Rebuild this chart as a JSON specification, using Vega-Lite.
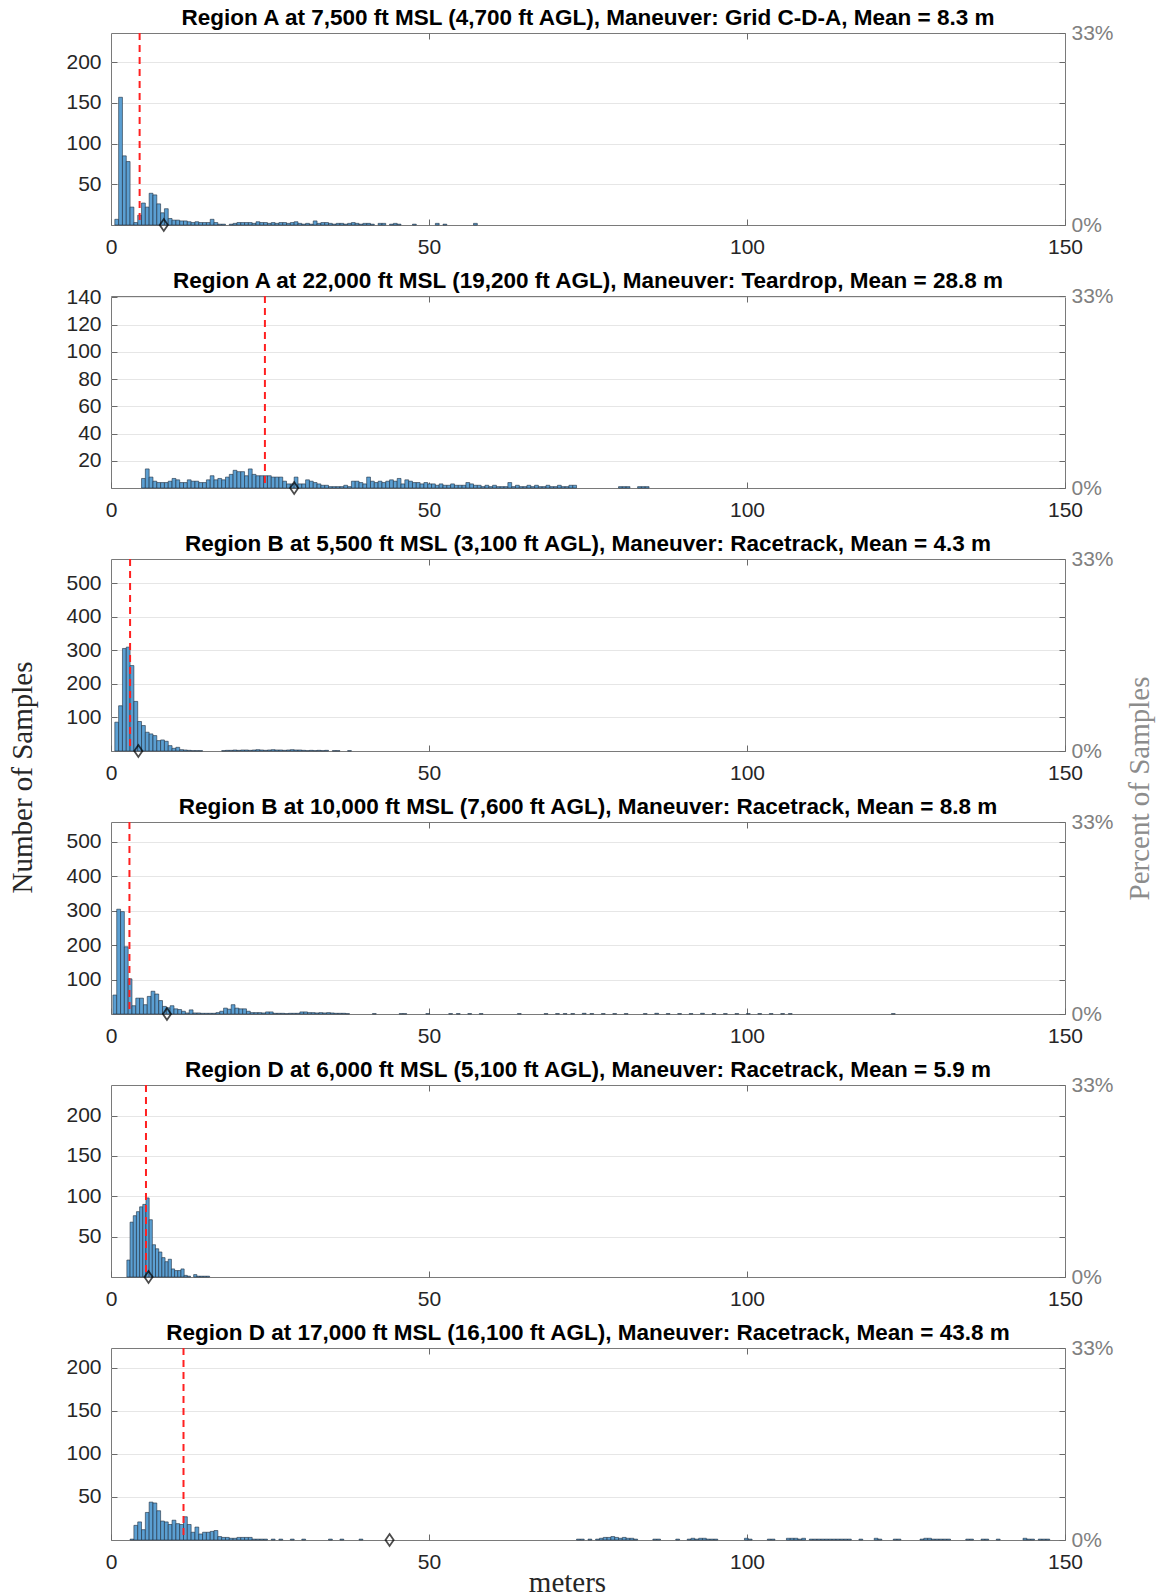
{
"$schema": "https://vega.github.io/schema/vega-lite/v6.json",
"padding": {"left": 7, "top": 6, "right": 5, "bottom": 0},
"background": "white",
"bounds": "flush",
"spacing": 71,
"config": {
  "view": {"stroke": "#7a7a7a", "strokeWidth": 1},
  "title": {"font": "Liberation Sans", "fontWeight": "bold", "fontSize": 22.5, "color": "#000000", "anchor": "middle", "offset": -7},
  "axis": {"labelFont": "Liberation Sans", "labelFontSize": 21, "labelColor": "#262626", "domain": false, "labelOverlap": false, "labelFlush": false, "gridColor": "#e6e6e6", "tickColor": "#6a6a6a"}
},
"datasets": {
"stats": [
 {"p":1,"median":4.5,"mean":8.3},
 {"p":2,"median":24.2,"mean":28.8},
 {"p":3,"median":3.0,"mean":4.3},
 {"p":4,"median":2.9,"mean":8.8},
 {"p":5,"median":5.5,"mean":5.9},
 {"p":6,"median":11.4,"mean":43.8}
],
"bars": [
 {"p":1,"c":0.9,"n":7},{"p":1,"c":1.5,"n":157},{"p":1,"c":2.1,"n":85},{"p":1,"c":2.7,"n":78},{"p":1,"c":3.3,"n":22},{"p":1,"c":3.9,"n":3},{"p":1,"c":4.5,"n":12},{"p":1,"c":5.1,"n":27},{"p":1,"c":5.7,"n":22},{"p":1,"c":6.3,"n":39},{"p":1,"c":6.9,"n":37},{"p":1,"c":7.5,"n":26},{"p":1,"c":8.1,"n":15},{"p":1,"c":8.7,"n":20},{"p":1,"c":9.3,"n":8},{"p":1,"c":9.9,"n":6},{"p":1,"c":10.5,"n":6},{"p":1,"c":11.1,"n":5},{"p":1,"c":11.7,"n":5},{"p":1,"c":12.3,"n":4},{"p":1,"c":12.9,"n":3},{"p":1,"c":13.5,"n":4},{"p":1,"c":14.1,"n":3},{"p":1,"c":14.7,"n":3},{"p":1,"c":15.3,"n":3},{"p":1,"c":15.9,"n":7},{"p":1,"c":16.5,"n":3},{"p":1,"c":17.1,"n":1},{"p":1,"c":17.7,"n":1},{"p":1,"c":18.9,"n":1},{"p":1,"c":19.5,"n":2},{"p":1,"c":20.1,"n":3},{"p":1,"c":20.7,"n":3},{"p":1,"c":21.3,"n":3},{"p":1,"c":21.9,"n":3},{"p":1,"c":22.5,"n":2},{"p":1,"c":23.1,"n":4},{"p":1,"c":23.7,"n":3},{"p":1,"c":24.3,"n":3},{"p":1,"c":24.9,"n":2},{"p":1,"c":25.5,"n":3},{"p":1,"c":26.1,"n":2},{"p":1,"c":26.7,"n":3},{"p":1,"c":27.3,"n":3},{"p":1,"c":27.9,"n":2},{"p":1,"c":28.5,"n":3},{"p":1,"c":29.1,"n":4},{"p":1,"c":29.7,"n":2},{"p":1,"c":30.3,"n":1},{"p":1,"c":30.9,"n":2},{"p":1,"c":31.5,"n":1},{"p":1,"c":32.1,"n":5},{"p":1,"c":32.7,"n":2},{"p":1,"c":33.3,"n":3},{"p":1,"c":33.9,"n":3},{"p":1,"c":34.5,"n":2},{"p":1,"c":35.1,"n":1},{"p":1,"c":35.7,"n":2},{"p":1,"c":36.3,"n":2},{"p":1,"c":36.9,"n":1},{"p":1,"c":37.5,"n":2},{"p":1,"c":38.1,"n":3},{"p":1,"c":38.7,"n":2},{"p":1,"c":39.3,"n":1},{"p":1,"c":39.9,"n":2},{"p":1,"c":40.5,"n":2},{"p":1,"c":41.1,"n":1},{"p":1,"c":42.3,"n":2},{"p":1,"c":42.9,"n":2},{"p":1,"c":44.1,"n":1},{"p":1,"c":44.7,"n":2},{"p":1,"c":45.3,"n":1},{"p":1,"c":47.7,"n":1},{"p":1,"c":51.3,"n":2},{"p":1,"c":52.5,"n":1},{"p":1,"c":57.3,"n":2},

 {"p":2,"c":5.1,"n":7},{"p":2,"c":5.7,"n":14},{"p":2,"c":6.3,"n":8},{"p":2,"c":6.9,"n":5},{"p":2,"c":7.5,"n":4},{"p":2,"c":8.1,"n":4},{"p":2,"c":8.7,"n":4},{"p":2,"c":9.3,"n":5},{"p":2,"c":9.9,"n":7},{"p":2,"c":10.5,"n":6},{"p":2,"c":11.1,"n":4},{"p":2,"c":11.7,"n":4},{"p":2,"c":12.3,"n":6},{"p":2,"c":12.9,"n":5},{"p":2,"c":13.5,"n":5},{"p":2,"c":14.1,"n":4},{"p":2,"c":14.7,"n":4},{"p":2,"c":15.3,"n":6},{"p":2,"c":15.9,"n":9},{"p":2,"c":16.5,"n":6},{"p":2,"c":17.1,"n":7},{"p":2,"c":17.7,"n":6},{"p":2,"c":18.3,"n":8},{"p":2,"c":18.9,"n":10},{"p":2,"c":19.5,"n":13},{"p":2,"c":20.1,"n":12},{"p":2,"c":20.7,"n":12},{"p":2,"c":21.3,"n":9},{"p":2,"c":21.9,"n":14},{"p":2,"c":22.5,"n":10},{"p":2,"c":23.1,"n":9},{"p":2,"c":23.7,"n":9},{"p":2,"c":24.3,"n":9},{"p":2,"c":24.9,"n":9},{"p":2,"c":25.5,"n":8},{"p":2,"c":26.1,"n":8},{"p":2,"c":26.7,"n":8},{"p":2,"c":27.3,"n":5},{"p":2,"c":27.9,"n":3},{"p":2,"c":28.5,"n":3},{"p":2,"c":29.1,"n":8},{"p":2,"c":29.7,"n":3},{"p":2,"c":30.3,"n":3},{"p":2,"c":30.9,"n":6},{"p":2,"c":31.5,"n":5},{"p":2,"c":32.1,"n":4},{"p":2,"c":32.7,"n":3},{"p":2,"c":33.3,"n":2},{"p":2,"c":33.9,"n":2},{"p":2,"c":34.5,"n":1},{"p":2,"c":35.1,"n":1},{"p":2,"c":35.7,"n":1},{"p":2,"c":36.3,"n":1},{"p":2,"c":36.9,"n":2},{"p":2,"c":37.5,"n":1},{"p":2,"c":38.1,"n":5},{"p":2,"c":38.7,"n":5},{"p":2,"c":39.3,"n":4},{"p":2,"c":39.9,"n":3},{"p":2,"c":40.5,"n":8},{"p":2,"c":41.1,"n":5},{"p":2,"c":41.7,"n":4},{"p":2,"c":42.3,"n":5},{"p":2,"c":42.9,"n":4},{"p":2,"c":43.5,"n":5},{"p":2,"c":44.1,"n":6},{"p":2,"c":44.7,"n":5},{"p":2,"c":45.3,"n":7},{"p":2,"c":45.9,"n":3},{"p":2,"c":46.5,"n":6},{"p":2,"c":47.1,"n":5},{"p":2,"c":47.7,"n":4},{"p":2,"c":48.3,"n":4},{"p":2,"c":48.9,"n":3},{"p":2,"c":49.5,"n":4},{"p":2,"c":50.1,"n":3},{"p":2,"c":50.7,"n":3},{"p":2,"c":51.3,"n":2},{"p":2,"c":51.9,"n":3},{"p":2,"c":52.5,"n":2},{"p":2,"c":53.1,"n":2},{"p":2,"c":53.7,"n":3},{"p":2,"c":54.3,"n":2},{"p":2,"c":54.9,"n":2},{"p":2,"c":55.5,"n":2},{"p":2,"c":56.1,"n":4},{"p":2,"c":56.7,"n":3},{"p":2,"c":57.3,"n":2},{"p":2,"c":57.9,"n":2},{"p":2,"c":58.5,"n":1},{"p":2,"c":59.1,"n":2},{"p":2,"c":59.7,"n":1},{"p":2,"c":60.3,"n":2},{"p":2,"c":60.9,"n":1},{"p":2,"c":61.5,"n":1},{"p":2,"c":62.1,"n":1},{"p":2,"c":62.7,"n":4},{"p":2,"c":63.3,"n":1},{"p":2,"c":63.9,"n":2},{"p":2,"c":64.5,"n":1},{"p":2,"c":65.1,"n":1},{"p":2,"c":65.7,"n":2},{"p":2,"c":66.3,"n":1},{"p":2,"c":66.9,"n":2},{"p":2,"c":67.5,"n":1},{"p":2,"c":68.1,"n":1},{"p":2,"c":68.7,"n":2},{"p":2,"c":69.3,"n":1},{"p":2,"c":69.9,"n":1},{"p":2,"c":70.5,"n":2},{"p":2,"c":71.1,"n":1},{"p":2,"c":71.7,"n":1},{"p":2,"c":72.3,"n":2},{"p":2,"c":72.9,"n":2},{"p":2,"c":80.1,"n":1},{"p":2,"c":80.7,"n":1},{"p":2,"c":81.3,"n":1},{"p":2,"c":83.1,"n":1},{"p":2,"c":83.7,"n":1},{"p":2,"c":84.3,"n":1},

 {"p":3,"c":0.9,"n":86},{"p":3,"c":1.5,"n":135},{"p":3,"c":2.1,"n":306},{"p":3,"c":2.7,"n":310},{"p":3,"c":3.3,"n":255},{"p":3,"c":3.9,"n":148},{"p":3,"c":4.5,"n":88},{"p":3,"c":5.1,"n":76},{"p":3,"c":5.7,"n":56},{"p":3,"c":6.3,"n":51},{"p":3,"c":6.9,"n":46},{"p":3,"c":7.5,"n":31},{"p":3,"c":8.1,"n":33},{"p":3,"c":8.7,"n":29},{"p":3,"c":9.3,"n":16},{"p":3,"c":9.9,"n":8},{"p":3,"c":10.5,"n":11},{"p":3,"c":11.1,"n":4},{"p":3,"c":11.7,"n":3},{"p":3,"c":12.3,"n":2},{"p":3,"c":12.9,"n":1},{"p":3,"c":13.5,"n":1},{"p":3,"c":14.1,"n":1},{"p":3,"c":17.7,"n":1},{"p":3,"c":18.3,"n":2},{"p":3,"c":18.9,"n":2},{"p":3,"c":19.5,"n":3},{"p":3,"c":20.1,"n":2},{"p":3,"c":20.7,"n":3},{"p":3,"c":21.3,"n":3},{"p":3,"c":21.9,"n":2},{"p":3,"c":22.5,"n":3},{"p":3,"c":23.1,"n":4},{"p":3,"c":23.7,"n":3},{"p":3,"c":24.3,"n":2},{"p":3,"c":24.9,"n":3},{"p":3,"c":25.5,"n":4},{"p":3,"c":26.1,"n":3},{"p":3,"c":26.7,"n":3},{"p":3,"c":27.3,"n":2},{"p":3,"c":27.9,"n":3},{"p":3,"c":28.5,"n":4},{"p":3,"c":29.1,"n":3},{"p":3,"c":29.7,"n":3},{"p":3,"c":30.3,"n":2},{"p":3,"c":30.9,"n":1},{"p":3,"c":31.5,"n":2},{"p":3,"c":32.1,"n":1},{"p":3,"c":32.7,"n":2},{"p":3,"c":33.3,"n":1},{"p":3,"c":33.9,"n":2},{"p":3,"c":35.1,"n":1},{"p":3,"c":35.7,"n":1},{"p":3,"c":37.5,"n":1},

 {"p":4,"c":0.6,"n":55},{"p":4,"c":1.2,"n":304},{"p":4,"c":1.8,"n":297},{"p":4,"c":2.4,"n":195},{"p":4,"c":3.0,"n":102},{"p":4,"c":3.6,"n":24},{"p":4,"c":4.2,"n":46},{"p":4,"c":4.8,"n":46},{"p":4,"c":5.4,"n":27},{"p":4,"c":6.0,"n":51},{"p":4,"c":6.6,"n":66},{"p":4,"c":7.2,"n":58},{"p":4,"c":7.8,"n":39},{"p":4,"c":8.4,"n":22},{"p":4,"c":9.0,"n":18},{"p":4,"c":9.6,"n":24},{"p":4,"c":10.2,"n":15},{"p":4,"c":10.8,"n":13},{"p":4,"c":11.4,"n":8},{"p":4,"c":12.0,"n":3},{"p":4,"c":12.6,"n":12},{"p":4,"c":13.2,"n":3},{"p":4,"c":13.8,"n":3},{"p":4,"c":14.4,"n":2},{"p":4,"c":15.0,"n":2},{"p":4,"c":15.6,"n":2},{"p":4,"c":16.2,"n":2},{"p":4,"c":16.8,"n":4},{"p":4,"c":17.4,"n":8},{"p":4,"c":18.0,"n":17},{"p":4,"c":18.6,"n":14},{"p":4,"c":19.2,"n":27},{"p":4,"c":19.8,"n":17},{"p":4,"c":20.4,"n":15},{"p":4,"c":21.0,"n":15},{"p":4,"c":21.6,"n":8},{"p":4,"c":22.2,"n":4},{"p":4,"c":22.8,"n":4},{"p":4,"c":23.4,"n":4},{"p":4,"c":24.0,"n":3},{"p":4,"c":24.6,"n":6},{"p":4,"c":25.2,"n":6},{"p":4,"c":25.8,"n":2},{"p":4,"c":26.4,"n":2},{"p":4,"c":27.0,"n":2},{"p":4,"c":27.6,"n":1},{"p":4,"c":28.2,"n":2},{"p":4,"c":28.8,"n":2},{"p":4,"c":29.4,"n":2},{"p":4,"c":30.0,"n":6},{"p":4,"c":30.6,"n":6},{"p":4,"c":31.2,"n":4},{"p":4,"c":31.8,"n":4},{"p":4,"c":32.4,"n":3},{"p":4,"c":33.0,"n":4},{"p":4,"c":33.6,"n":3},{"p":4,"c":34.2,"n":4},{"p":4,"c":34.8,"n":3},{"p":4,"c":35.4,"n":2},{"p":4,"c":36.0,"n":2},{"p":4,"c":36.6,"n":2},{"p":4,"c":37.2,"n":1},{"p":4,"c":41.4,"n":1},{"p":4,"c":45.6,"n":1},{"p":4,"c":46.2,"n":1},{"p":4,"c":49.8,"n":1},{"p":4,"c":53.4,"n":1},{"p":4,"c":54.6,"n":1},{"p":4,"c":56.4,"n":1},{"p":4,"c":58.2,"n":1},{"p":4,"c":64.2,"n":1},{"p":4,"c":68.4,"n":1},{"p":4,"c":70.2,"n":1},{"p":4,"c":71.4,"n":1},{"p":4,"c":72.6,"n":1},{"p":4,"c":74.4,"n":2},{"p":4,"c":75.6,"n":1},{"p":4,"c":77.4,"n":1},{"p":4,"c":79.2,"n":1},{"p":4,"c":81.0,"n":1},{"p":4,"c":84.0,"n":1},{"p":4,"c":85.8,"n":2},{"p":4,"c":87.6,"n":1},{"p":4,"c":89.4,"n":1},{"p":4,"c":91.2,"n":1},{"p":4,"c":93.0,"n":2},{"p":4,"c":94.8,"n":1},{"p":4,"c":96.6,"n":1},{"p":4,"c":98.4,"n":1},{"p":4,"c":100.2,"n":1},{"p":4,"c":102.0,"n":1},{"p":4,"c":103.8,"n":1},{"p":4,"c":105.6,"n":1},{"p":4,"c":106.8,"n":1},{"p":4,"c":123.0,"n":1},

 {"p":5,"c":2.75,"n":21},{"p":5,"c":3.25,"n":68},{"p":5,"c":3.75,"n":76},{"p":5,"c":4.25,"n":81},{"p":5,"c":4.75,"n":87},{"p":5,"c":5.25,"n":90},{"p":5,"c":5.75,"n":98},{"p":5,"c":6.25,"n":71},{"p":5,"c":6.75,"n":40},{"p":5,"c":7.25,"n":35},{"p":5,"c":7.75,"n":31},{"p":5,"c":8.25,"n":24},{"p":5,"c":8.75,"n":19},{"p":5,"c":9.25,"n":22},{"p":5,"c":9.75,"n":10},{"p":5,"c":10.25,"n":8},{"p":5,"c":10.75,"n":8},{"p":5,"c":11.25,"n":10},{"p":5,"c":11.75,"n":2},{"p":5,"c":12.25,"n":1},{"p":5,"c":13.25,"n":3},{"p":5,"c":13.75,"n":1},{"p":5,"c":14.25,"n":1},{"p":5,"c":14.75,"n":1},{"p":5,"c":15.25,"n":1},

 {"p":6,"c":3.3,"n":1},{"p":6,"c":3.9,"n":17},{"p":6,"c":4.5,"n":21},{"p":6,"c":5.1,"n":12},{"p":6,"c":5.7,"n":32},{"p":6,"c":6.3,"n":44},{"p":6,"c":6.9,"n":43},{"p":6,"c":7.5,"n":34},{"p":6,"c":8.1,"n":22},{"p":6,"c":8.7,"n":21},{"p":6,"c":9.3,"n":18},{"p":6,"c":9.9,"n":23},{"p":6,"c":10.5,"n":19},{"p":6,"c":11.1,"n":18},{"p":6,"c":11.7,"n":27},{"p":6,"c":12.3,"n":18},{"p":6,"c":12.9,"n":9},{"p":6,"c":13.5,"n":15},{"p":6,"c":14.1,"n":7},{"p":6,"c":14.7,"n":9},{"p":6,"c":15.3,"n":9},{"p":6,"c":15.9,"n":10},{"p":6,"c":16.5,"n":11},{"p":6,"c":17.1,"n":4},{"p":6,"c":17.7,"n":3},{"p":6,"c":18.3,"n":3},{"p":6,"c":18.9,"n":2},{"p":6,"c":19.5,"n":2},{"p":6,"c":20.1,"n":3},{"p":6,"c":20.7,"n":3},{"p":6,"c":21.3,"n":3},{"p":6,"c":21.9,"n":3},{"p":6,"c":22.5,"n":1},{"p":6,"c":23.1,"n":1},{"p":6,"c":23.7,"n":1},{"p":6,"c":24.3,"n":1},{"p":6,"c":25.5,"n":1},{"p":6,"c":26.7,"n":1},{"p":6,"c":28.5,"n":1},{"p":6,"c":30.3,"n":1},{"p":6,"c":34.5,"n":1},{"p":6,"c":36.3,"n":1},{"p":6,"c":39.3,"n":1},{"p":6,"c":73.5,"n":1},{"p":6,"c":74.1,"n":1},{"p":6,"c":75.3,"n":1},{"p":6,"c":76.5,"n":1},{"p":6,"c":77.1,"n":2},{"p":6,"c":77.7,"n":3},{"p":6,"c":78.3,"n":3},{"p":6,"c":78.9,"n":4},{"p":6,"c":79.5,"n":3},{"p":6,"c":80.1,"n":2},{"p":6,"c":80.7,"n":3},{"p":6,"c":81.3,"n":2},{"p":6,"c":81.9,"n":2},{"p":6,"c":82.5,"n":1},{"p":6,"c":85.5,"n":1},{"p":6,"c":86.1,"n":1},{"p":6,"c":89.1,"n":1},{"p":6,"c":90.9,"n":1},{"p":6,"c":91.5,"n":2},{"p":6,"c":92.1,"n":1},{"p":6,"c":92.7,"n":2},{"p":6,"c":93.3,"n":2},{"p":6,"c":93.9,"n":1},{"p":6,"c":94.5,"n":1},{"p":6,"c":95.1,"n":1},{"p":6,"c":99.9,"n":2},{"p":6,"c":100.5,"n":1},{"p":6,"c":103.5,"n":1},{"p":6,"c":104.1,"n":1},{"p":6,"c":106.5,"n":2},{"p":6,"c":107.1,"n":2},{"p":6,"c":107.7,"n":2},{"p":6,"c":108.3,"n":1},{"p":6,"c":108.9,"n":2},{"p":6,"c":110.1,"n":1},{"p":6,"c":110.7,"n":1},{"p":6,"c":111.3,"n":1},{"p":6,"c":111.9,"n":1},{"p":6,"c":112.5,"n":1},{"p":6,"c":113.1,"n":1},{"p":6,"c":113.7,"n":1},{"p":6,"c":114.3,"n":1},{"p":6,"c":114.9,"n":1},{"p":6,"c":115.5,"n":1},{"p":6,"c":116.1,"n":1},{"p":6,"c":117.9,"n":1},{"p":6,"c":120.3,"n":2},{"p":6,"c":120.9,"n":1},{"p":6,"c":123.3,"n":1},{"p":6,"c":123.9,"n":1},{"p":6,"c":127.5,"n":1},{"p":6,"c":128.1,"n":2},{"p":6,"c":128.7,"n":2},{"p":6,"c":129.3,"n":1},{"p":6,"c":129.9,"n":1},{"p":6,"c":130.5,"n":1},{"p":6,"c":131.1,"n":1},{"p":6,"c":131.7,"n":1},{"p":6,"c":134.7,"n":1},{"p":6,"c":135.3,"n":1},{"p":6,"c":137.1,"n":1},{"p":6,"c":137.7,"n":1},{"p":6,"c":139.5,"n":1},{"p":6,"c":143.7,"n":2},{"p":6,"c":144.3,"n":1},{"p":6,"c":144.9,"n":1},{"p":6,"c":146.1,"n":1},{"p":6,"c":146.7,"n":1},{"p":6,"c":147.3,"n":1}
]
},
"vconcat": [
{
 "title": "Region A at 7,500 ft MSL (4,700 ft AGL), Maneuver: Grid C-D-A, Mean = 8.3 m",
 "width": 954, "height": 192,
 "layer": [
  {"data": {"name": "bars"}, "transform": [{"filter": "datum.p == 1"}],
   "mark": {"type": "bar", "width": 3.8, "fill": "#5b9fd2", "stroke": "#1e2e3e", "strokeWidth": 0.6},
   "encoding": {
    "x": {"field": "c", "type": "quantitative", "scale": {"domain": [0, 150], "nice": false, "zero": false, "padding": 0}, "axis": {"values": [0, 50, 100, 150], "labelFlush": false, "labelAlign": "center", "grid": false, "tickSize": -6, "labelPadding": 17, "title": null}},
    "y": {"field": "n", "type": "quantitative", "scale": {"domain": [0, 236], "nice": false}, "axis": {"orient": "left", "values": [50, 100, 150, 200], "tickSize": -6, "labelPadding": 16, "title": null}}}},
  {"data": {"name": "stats"}, "transform": [{"filter": "datum.p == 1"}],
   "mark": {"type": "rule", "color": "#ff2020", "strokeDash": [7, 5], "strokeWidth": 2},
   "encoding": {"x": {"field": "median", "type": "quantitative", "axis": {"orient": "top", "values": [50, 100], "labels": false, "grid": false, "tickSize": -6, "title": null}}}},
  {"data": {"name": "stats"}, "transform": [{"filter": "datum.p == 1"}],
   "mark": {"type": "point", "shape": "M0,-1.25L0.85,0L0,1.25L-0.85,0Z", "filled": false, "stroke": "#000000", "strokeWidth": 1.8, "size": 92},
   "encoding": {"x": {"field": "mean", "type": "quantitative", "axis": null},
    "y": {"datum": 0, "type": "quantitative", "axis": {"orient": "right", "values": [0, 50, 100, 150, 200, 236], "labelExpr": "datum.value == 0 ? '0%' : (datum.value >= 236 ? '33%' : '')", "tickSize": -6, "labelPadding": 12, "labelColor": "#808080", "grid": false, "title": null}}}}
 ],
 "resolve": {"axis": {"x": "independent", "y": "independent"}}
},
{
 "title": "Region A at 22,000 ft MSL (19,200 ft AGL), Maneuver: Teardrop, Mean = 28.8 m",
 "width": 954, "height": 192,
 "layer": [
  {"data": {"name": "bars"}, "transform": [{"filter": "datum.p == 2"}],
   "mark": {"type": "bar", "width": 3.8, "fill": "#5b9fd2", "stroke": "#1e2e3e", "strokeWidth": 0.6},
   "encoding": {
    "x": {"field": "c", "type": "quantitative", "scale": {"domain": [0, 150], "nice": false, "zero": false, "padding": 0}, "axis": {"values": [0, 50, 100, 150], "labelFlush": false, "labelAlign": "center", "grid": false, "tickSize": -6, "labelPadding": 17, "title": null}},
    "y": {"field": "n", "type": "quantitative", "scale": {"domain": [0, 141], "nice": false}, "axis": {"orient": "left", "values": [20, 40, 60, 80, 100, 120, 140], "tickSize": -6, "labelPadding": 16, "title": null}}}},
  {"data": {"name": "stats"}, "transform": [{"filter": "datum.p == 2"}],
   "mark": {"type": "rule", "color": "#ff2020", "strokeDash": [7, 5], "strokeWidth": 2},
   "encoding": {"x": {"field": "median", "type": "quantitative", "axis": {"orient": "top", "values": [50, 100], "labels": false, "grid": false, "tickSize": -6, "title": null}}}},
  {"data": {"name": "stats"}, "transform": [{"filter": "datum.p == 2"}],
   "mark": {"type": "point", "shape": "M0,-1.25L0.85,0L0,1.25L-0.85,0Z", "filled": false, "stroke": "#000000", "strokeWidth": 1.8, "size": 92},
   "encoding": {"x": {"field": "mean", "type": "quantitative", "axis": null},
    "y": {"datum": 0, "type": "quantitative", "axis": {"orient": "right", "values": [0, 20, 40, 60, 80, 100, 120, 141], "labelExpr": "datum.value == 0 ? '0%' : (datum.value >= 141 ? '33%' : '')", "tickSize": -6, "labelPadding": 12, "labelColor": "#808080", "grid": false, "title": null}}}}
 ],
 "resolve": {"axis": {"x": "independent", "y": "independent"}}
},
{
 "title": "Region B at 5,500 ft MSL (3,100 ft AGL), Maneuver: Racetrack, Mean = 4.3 m",
 "width": 954, "height": 192,
 "layer": [
  {"data": {"name": "bars"}, "transform": [{"filter": "datum.p == 3"}],
   "mark": {"type": "bar", "width": 3.8, "fill": "#5b9fd2", "stroke": "#1e2e3e", "strokeWidth": 0.6},
   "encoding": {
    "x": {"field": "c", "type": "quantitative", "scale": {"domain": [0, 150], "nice": false, "zero": false, "padding": 0}, "axis": {"values": [0, 50, 100, 150], "labelFlush": false, "labelAlign": "center", "grid": false, "tickSize": -6, "labelPadding": 17, "title": null}},
    "y": {"field": "n", "type": "quantitative", "scale": {"domain": [0, 573], "nice": false}, "axis": {"orient": "left", "values": [100, 200, 300, 400, 500], "tickSize": -6, "labelPadding": 16, "title": "Number of Samples", "titleFont": "Liberation Serif", "titleFontSize": 29, "titleFontWeight": "normal", "titleColor": "#262626", "titleAngle": 270, "titleX": -89, "titleY": 218, "titleAlign": "center", "titleBaseline": "middle"}}}},
  {"data": {"name": "stats"}, "transform": [{"filter": "datum.p == 3"}],
   "mark": {"type": "rule", "color": "#ff2020", "strokeDash": [7, 5], "strokeWidth": 2},
   "encoding": {"x": {"field": "median", "type": "quantitative", "axis": {"orient": "top", "values": [50, 100], "labels": false, "grid": false, "tickSize": -6, "title": null}}}},
  {"data": {"name": "stats"}, "transform": [{"filter": "datum.p == 3"}],
   "mark": {"type": "point", "shape": "M0,-1.25L0.85,0L0,1.25L-0.85,0Z", "filled": false, "stroke": "#000000", "strokeWidth": 1.8, "size": 92},
   "encoding": {"x": {"field": "mean", "type": "quantitative", "axis": null},
    "y": {"datum": 0, "type": "quantitative", "axis": {"orient": "right", "values": [0, 100, 200, 300, 400, 500, 573], "labelExpr": "datum.value == 0 ? '0%' : (datum.value >= 573 ? '33%' : '')", "tickSize": -6, "labelPadding": 12, "labelColor": "#808080", "grid": false, "title": "Percent of Samples", "titleFont": "Liberation Serif", "titleFontSize": 29, "titleFontWeight": "normal", "titleColor": "#8c8c8c", "titleAngle": 270, "titleX": 74, "titleY": 229, "titleAlign": "center", "titleBaseline": "middle"}}}}
 ],
 "resolve": {"axis": {"x": "independent", "y": "independent"}}
},
{
 "title": "Region B at 10,000 ft MSL (7,600 ft AGL), Maneuver: Racetrack, Mean = 8.8 m",
 "width": 954, "height": 192,
 "layer": [
  {"data": {"name": "bars"}, "transform": [{"filter": "datum.p == 4"}],
   "mark": {"type": "bar", "width": 3.8, "fill": "#5b9fd2", "stroke": "#1e2e3e", "strokeWidth": 0.6},
   "encoding": {
    "x": {"field": "c", "type": "quantitative", "scale": {"domain": [0, 150], "nice": false, "zero": false, "padding": 0}, "axis": {"values": [0, 50, 100, 150], "labelFlush": false, "labelAlign": "center", "grid": false, "tickSize": -6, "labelPadding": 17, "title": null}},
    "y": {"field": "n", "type": "quantitative", "scale": {"domain": [0, 557], "nice": false}, "axis": {"orient": "left", "values": [100, 200, 300, 400, 500], "tickSize": -6, "labelPadding": 16, "title": null}}}},
  {"data": {"name": "stats"}, "transform": [{"filter": "datum.p == 4"}],
   "mark": {"type": "rule", "color": "#ff2020", "strokeDash": [7, 5], "strokeWidth": 2},
   "encoding": {"x": {"field": "median", "type": "quantitative", "axis": {"orient": "top", "values": [50, 100], "labels": false, "grid": false, "tickSize": -6, "title": null}}}},
  {"data": {"name": "stats"}, "transform": [{"filter": "datum.p == 4"}],
   "mark": {"type": "point", "shape": "M0,-1.25L0.85,0L0,1.25L-0.85,0Z", "filled": false, "stroke": "#000000", "strokeWidth": 1.8, "size": 92},
   "encoding": {"x": {"field": "mean", "type": "quantitative", "axis": null},
    "y": {"datum": 0, "type": "quantitative", "axis": {"orient": "right", "values": [0, 100, 200, 300, 400, 500, 557], "labelExpr": "datum.value == 0 ? '0%' : (datum.value >= 557 ? '33%' : '')", "tickSize": -6, "labelPadding": 12, "labelColor": "#808080", "grid": false, "title": null}}}}
 ],
 "resolve": {"axis": {"x": "independent", "y": "independent"}}
},
{
 "title": "Region D at 6,000 ft MSL (5,100 ft AGL), Maneuver: Racetrack, Mean = 5.9 m",
 "width": 954, "height": 192,
 "layer": [
  {"data": {"name": "bars"}, "transform": [{"filter": "datum.p == 5"}],
   "mark": {"type": "bar", "width": 3.2, "fill": "#5b9fd2", "stroke": "#1e2e3e", "strokeWidth": 0.6},
   "encoding": {
    "x": {"field": "c", "type": "quantitative", "scale": {"domain": [0, 150], "nice": false, "zero": false, "padding": 0}, "axis": {"values": [0, 50, 100, 150], "labelFlush": false, "labelAlign": "center", "grid": false, "tickSize": -6, "labelPadding": 17, "title": null}},
    "y": {"field": "n", "type": "quantitative", "scale": {"domain": [0, 238], "nice": false}, "axis": {"orient": "left", "values": [50, 100, 150, 200], "tickSize": -6, "labelPadding": 16, "title": null}}}},
  {"data": {"name": "stats"}, "transform": [{"filter": "datum.p == 5"}],
   "mark": {"type": "rule", "color": "#ff2020", "strokeDash": [7, 5], "strokeWidth": 2},
   "encoding": {"x": {"field": "median", "type": "quantitative", "axis": {"orient": "top", "values": [50, 100], "labels": false, "grid": false, "tickSize": -6, "title": null}}}},
  {"data": {"name": "stats"}, "transform": [{"filter": "datum.p == 5"}],
   "mark": {"type": "point", "shape": "M0,-1.25L0.85,0L0,1.25L-0.85,0Z", "filled": false, "stroke": "#000000", "strokeWidth": 1.8, "size": 92},
   "encoding": {"x": {"field": "mean", "type": "quantitative", "axis": null},
    "y": {"datum": 0, "type": "quantitative", "axis": {"orient": "right", "values": [0, 50, 100, 150, 200, 238], "labelExpr": "datum.value == 0 ? '0%' : (datum.value >= 238 ? '33%' : '')", "tickSize": -6, "labelPadding": 12, "labelColor": "#808080", "grid": false, "title": null}}}}
 ],
 "resolve": {"axis": {"x": "independent", "y": "independent"}}
},
{
 "title": "Region D at 17,000 ft MSL (16,100 ft AGL), Maneuver: Racetrack, Mean = 43.8 m",
 "width": 954, "height": 192,
 "layer": [
  {"data": {"name": "bars"}, "transform": [{"filter": "datum.p == 6"}],
   "mark": {"type": "bar", "width": 3.8, "fill": "#5b9fd2", "stroke": "#1e2e3e", "strokeWidth": 0.6},
   "encoding": {
    "x": {"field": "c", "type": "quantitative", "scale": {"domain": [0, 150], "nice": false, "zero": false, "padding": 0}, "axis": {"values": [0, 50, 100, 150], "labelFlush": false, "labelAlign": "center", "grid": false, "tickSize": -6, "labelPadding": 17, "title": "meters", "titleFont": "Liberation Serif", "titleFontSize": 29, "titleFontWeight": "normal", "titleColor": "#262626", "titleX": 456, "titlePadding": -4}},
    "y": {"field": "n", "type": "quantitative", "scale": {"domain": [0, 223], "nice": false}, "axis": {"orient": "left", "values": [50, 100, 150, 200], "tickSize": -6, "labelPadding": 16, "title": null}}}},
  {"data": {"name": "stats"}, "transform": [{"filter": "datum.p == 6"}],
   "mark": {"type": "rule", "color": "#ff2020", "strokeDash": [7, 5], "strokeWidth": 2},
   "encoding": {"x": {"field": "median", "type": "quantitative", "axis": {"orient": "top", "values": [50, 100], "labels": false, "grid": false, "tickSize": -6, "title": null}}}},
  {"data": {"name": "stats"}, "transform": [{"filter": "datum.p == 6"}],
   "mark": {"type": "point", "shape": "M0,-1.25L0.85,0L0,1.25L-0.85,0Z", "filled": false, "stroke": "#000000", "strokeWidth": 1.8, "size": 92},
   "encoding": {"x": {"field": "mean", "type": "quantitative", "axis": null},
    "y": {"datum": 0, "type": "quantitative", "axis": {"orient": "right", "values": [0, 50, 100, 150, 200, 223], "labelExpr": "datum.value == 0 ? '0%' : (datum.value >= 223 ? '33%' : '')", "tickSize": -6, "labelPadding": 12, "labelColor": "#808080", "grid": false, "title": null}}}}
 ],
 "resolve": {"axis": {"x": "independent", "y": "independent"}}
}
]
}
